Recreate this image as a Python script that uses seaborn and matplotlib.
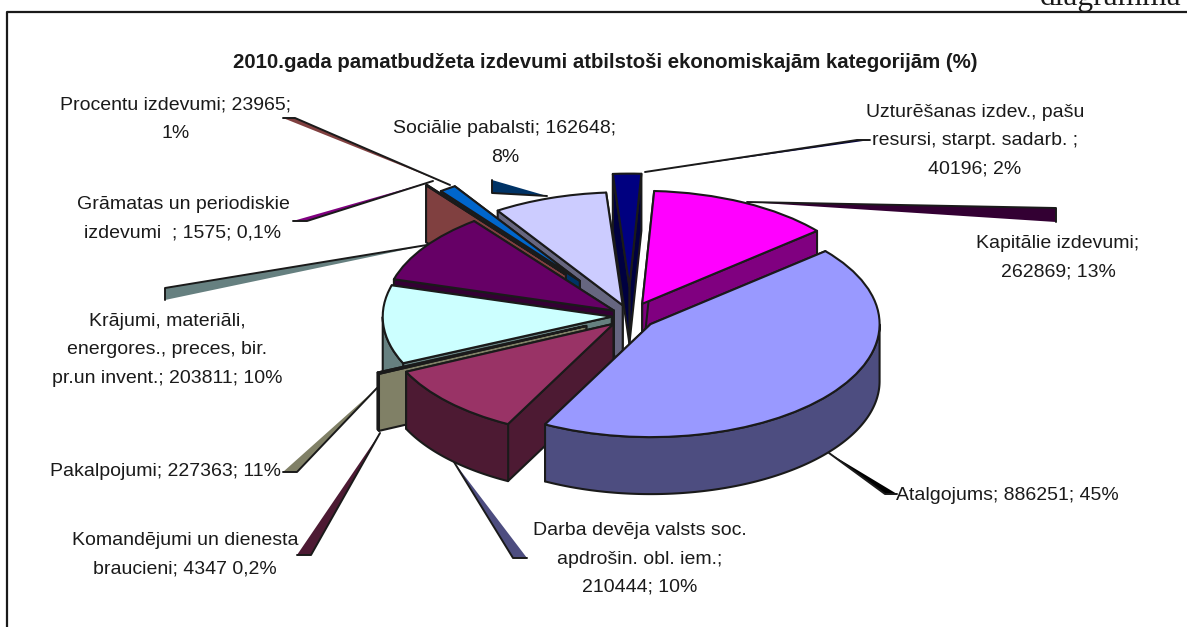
import numpy as np
import matplotlib
matplotlib.use("Agg")
import matplotlib.pyplot as plt
import seaborn as sns

# 2010 basic budget spending, clockwise from the top
categories = ['Kapitālie izdevumi', 'Atalgojums', 'Darba devēja valsts soc. apdrošin. obl. iem.',
              'Komandējumi un dienesta braucieni', 'Pakalpojumi', 'Krājumi', 'Grāmatas un periodiskie izdevumi',
              'Procentu izdevumi', 'Sociālie pabalsti', 'Uzturēšanas izdev.']
amounts = [262869, 886251, 210444, 4347, 227363, 203811, 1575, 23965, 162648, 40196]
explode = [0.12, 0.115, 0.10, 0.21, 0.08, 0.085, 0.46, 0.38, 0.10, 0.26]
top_colors = ['#FF00FF', '#9999FF', '#993366', '#FFFFCC', '#CCFFFF', '#660066', '#FF8080', '#0066CC', '#CCCCFF', '#000080']
side_colors = ['#800080', '#4D4D80', '#4D1A33', '#808066', '#668080', '#330033', '#804040', '#003366', '#666680', '#000040']
# back to front
draw_order = [9, 8, 0, 7, 6, 5, 4, 3, 2, 1]

labels = [
    ('Kapitālie izdevumi;\n262869; 13%', 1058, 258),
    ('Atalgojums; 886251; 45%', 1007, 495),
    ('Darba devēja valsts soc.\napdrošin. obl. iem.;\n210444; 10%', 640, 559),
    ('Komandējumi un dienesta\nbraucieni; 4347 0,2%', 185, 555),
    ('Pakalpojumi; 227363; 11%', 165, 471),
    ('Krājumi, materiāli,\nenergores., preces, bir.\npr.un invent.; 203811; 10%', 167, 350),
    ('Grāmatas un periodiskie\nizdevumi  ; 1575; 0,1%', 183, 219),
    ('Procentu izdevumi; 23965;\n1%', 176, 119),
    ('Sociālie pabalsti; 162648;\n8%', 505, 143),
    ('Uzturēšanas izdev., pašu\nresursi, starpt. sadarb. ;\n40196; 2%', 975, 141),
]

W, H = 1187, 627
CX, CY, RX, RY, DEPTH = 630, 316, 229, 113, 57

# leader tails: pie end, then the two points of the far end
leaders = [
    ((747, 202), (1056, 208), (1056, 222), '#330033'),
    ((645, 172), (857, 140), (870, 140), '#000040'),
    ((547, 196), (492, 193), (492, 180), '#003366'),
    ((450, 185), (295, 118), (283, 118), '#804040'),
    ((433, 181), (307, 221), (293, 221), '#800080'),
    ((427, 245), (165, 288), (165, 300), '#668080'),
    ((377, 388), (297, 472), (283, 472), '#808066'),
    ((380, 433), (311, 555), (297, 555), '#4D1A33'),
    ((454, 462), (513, 558), (527, 558), '#4D4D80'),
    ((829, 453), (885, 494), (897, 494), '#000000'),
]

sns.set_theme(style='white', font='Liberation Sans')
plt.rcParams['font.family'] = ['Liberation Sans', 'DejaVu Sans']

fig = plt.figure(figsize=(W / 100, H / 100), dpi=100)
ax = fig.add_axes([0, 0, 1, 1])
wedges, _ = ax.pie(amounts, colors=top_colors, explode=explode, startangle=87, counterclock=False,
                   wedgeprops=dict(edgecolor='k', linewidth=1.5, joinstyle='round'))
ax.set_aspect('auto')
ax.set_xlim(-CX / RX, (W - CX) / RX)
ax.set_ylim((CY - H) / RY, CY / RY)
ax.set_frame_on(False)

d = DEPTH / RY
edge = dict(edgecolor='k', linewidth=1.5, joinstyle='round')
for z, i in enumerate(draw_order, start=1):
    w = wedges[i]
    cx, cy = w.center
    # the two cut faces
    for t in (w.theta1, w.theta2):
        c, s = np.cos(np.radians(t)), np.sin(np.radians(t))
        ax.fill([cx, cx + c, cx + c, cx], [cy, cy + s, cy + s - d, cy - d],
                facecolor=side_colors[i], zorder=z, **edge)
    # outer wall, front part only
    t = np.radians(np.arange(w.theta1, w.theta2 + 0.1, 0.25))
    t = t[np.sin(t) <= 0]
    if len(t) > 1:
        xs = cx + np.cos(t)
        ys = cy + np.sin(t)
        ax.fill(np.r_[xs, xs[::-1]], np.r_[ys, ys[::-1] - d],
                facecolor=side_colors[i], zorder=z + 0.2, **edge)
    w.set_zorder(z + 0.5)


def fig_xy(x, y):
    return x / W, 1 - y / H


for a, b, c, col in leaders:
    pts = [fig_xy(*p) for p in (a, b, c)]
    xs, ys = zip(*pts)
    fig.add_artist(plt.Polygon(pts, closed=True, facecolor=col, edgecolor='none', transform=fig.transFigure, zorder=0.5))
    fig.add_artist(plt.Line2D(xs, ys, color='k', lw=1.4, transform=fig.transFigure, zorder=0.6))
ax.set_zorder(1)
ax.patch.set_alpha(0)

for text, x, y in labels:
    tx, ty = fig_xy(x, y)
    fig.text(tx, ty, text, ha='center', va='center', fontsize=14, color='k', linespacing=1.85, zorder=3)

tx, ty = fig_xy(605, 63)
fig.text(tx, ty, '2010.gada pamatbudžeta izdevumi atbilstoši ekonomiskajām kategorijām (%)',
         ha='center', va='center', fontsize=14.7, fontweight='bold', color='k', zorder=3)
tx, ty = fig_xy(1111, 5)
fig.text(tx, ty, 'diagramma', ha='center', va='baseline', fontsize=22.7, family='Liberation Serif', color='k', zorder=3)

# page frame, only left and top
fx = [fig_xy(p[0], p[1]) for p in ((7, 640), (7, 12), (1195, 12))]
fig.add_artist(plt.Line2D([p[0] for p in fx], [p[1] for p in fx], color='k', lw=1.6, transform=fig.transFigure, zorder=4))

fig.savefig('out.png', dpi=100)
